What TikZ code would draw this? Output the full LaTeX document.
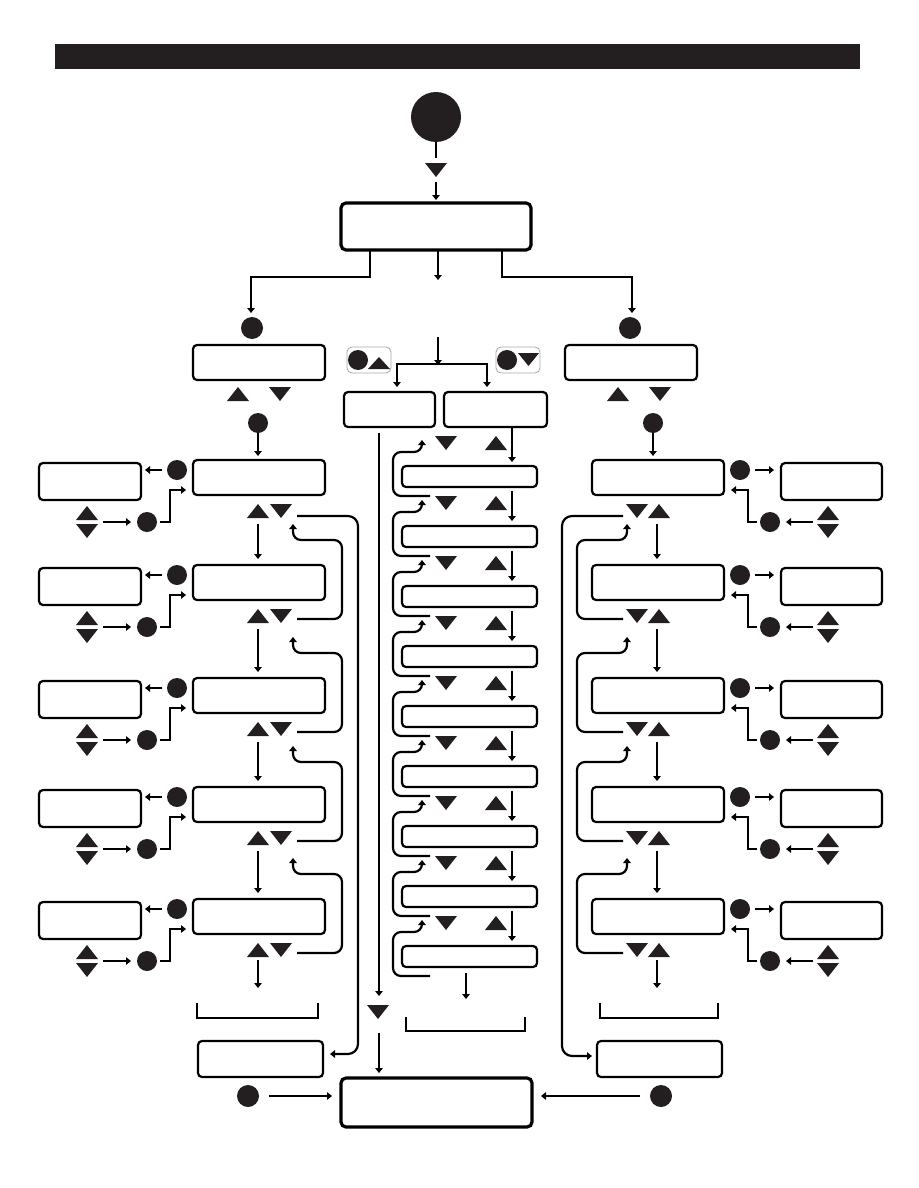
\documentclass[tikz,border=0pt]{standalone}
\usetikzlibrary{arrows.meta}
\definecolor{ink}{HTML}{231F20}
\newcommand\TUp[2]{\fill[ink] ({#1-11},{#2+7}) -- ({#1+11},{#2+7}) -- ({#1},{#2-7}) -- cycle;}
\newcommand\TDn[2]{\fill[ink] ({#1-11},{#2-7}) -- ({#1+11},{#2-7}) -- ({#1},{#2+7}) -- cycle;}
\begin{document}
\begin{tikzpicture}[x=1pt,y=-1pt,
  box/.style={draw=black, line width=2.2pt, rounded corners=4pt, inner sep=0pt, outer sep=0pt, fill=white},
  bigbox/.style={box, line width=3.2pt, rounded corners=5pt},
  btn/.style={circle, fill=ink, inner sep=0pt, outer sep=0pt},
  ln/.style={line width=2.2pt, draw=black},
  ar/.style={ln, -{Triangle[length=5pt,width=7.5pt]}},
  brk/.style={line width=1.4pt, draw=black},
  badge/.style={draw=gray!70, line width=0.8pt, rounded corners=5pt, inner sep=0pt, minimum width=44pt, minimum height=26pt}
]
\useasboundingbox (0,0) rectangle (918,1188);
% title bar
\node[fill=ink, inner sep=0pt, minimum width=805pt, minimum height=25pt] (bar) at (457.5,56.5) {};
% start
\node[btn, minimum size=50pt] (start) at (436,117) {};
\draw[ln] (start.south) -- (436,158);
\TDn{436}{170}
\node[bigbox, minimum width=190pt, minimum height=47pt] (b1) at (436,226.5) {};
\draw[ar] (436,182) -- ([yshift=3pt]b1.north);
% branches
\draw[ar] (370,250) |- (251,277) -- (251,313);
\draw[ar] (502,250) |- (632,277) -- (632,313);
\draw[ar] (438,250) -- (438,280);
% left top
\node[btn, minimum size=22pt] (cl0) at (252,328) {};
\node[box, minimum width=132pt, minimum height=35pt] (L0) at (259,362.5) {};
\TUp{238}{394}\TDn{280}{394}
\node[btn, minimum size=20pt] (cl1) at (258,423) {};
% right top
\node[btn, minimum size=22pt] (cr0) at (630,328) {};
\node[box, minimum width=132pt, minimum height=35pt] (R0) at (631,362.5) {};
\TUp{618}{394}\TDn{660}{394}
\node[btn, minimum size=20pt] (cr1) at (653,423) {};
% middle top
\node[badge] (bgL) at (369,360) {};
\node[btn, minimum size=20pt] (bgLc) at (358,360) {};
\fill[ink] (368,369) -- (390,369) -- (379,357) -- cycle;
\node[badge] (bgR) at (518,360) {};
\node[btn, minimum size=20pt] (bgRc) at (507,360) {};
\fill[ink] (518,353) -- (539,353) -- (528.5,366) -- cycle;
\draw[ar] (438,337) -- (438,365);
\draw[ar] (438,364) -| (397,387);
\draw[ar] (438,364) -| (487,387);
\node[box, minimum width=91pt, minimum height=35pt] (M1) at (389.5,409.5) {};
\node[box, minimum width=103pt, minimum height=35pt] (M2) at (495.5,409.5) {};
\draw[ar] (cl1.south) -- (258,456);
\draw[ar] (cr1.south) -- (653,456);
% left and right columns
\foreach \T [count=\i] in {460,565,678,787,899} {
  % left
  \node[box, minimum width=132pt, minimum height=35pt] (L\i) at (259,\T+17.5) {};
  \node[box, minimum width=102pt, minimum height=37pt] (SL\i) at (90,\T+21.5) {};
  \node[btn, minimum size=20pt] (LA\i) at (177,\T+10) {};
  \node[btn, minimum size=20pt] (LB\i) at (147,\T+62) {};
  \draw[ar] ([xshift=-5pt]LA\i.west) -- (145,\T+10);
  \TUp{87}{\T+53}\TDn{87}{\T+71}
  \draw[ar] (103,\T+62) -- ([xshift=-6pt]LB\i.west);
  \draw[ar] ([xshift=3pt]LB\i.east) -- (170,\T+62) -- (170,\T+30) -- (186,\T+30);
  \TUp{258}{\T+51}\TDn{281}{\T+51}
  % right
  \node[box, minimum width=132pt, minimum height=35pt] (R\i) at (658,\T+17.5) {};
  \node[box, minimum width=101pt, minimum height=37pt] (SR\i) at (831.5,\T+21.5) {};
  \node[btn, minimum size=20pt] (RA\i) at (740,\T+10) {};
  \node[btn, minimum size=20pt] (RB\i) at (770,\T+62) {};
  \draw[ar] ([xshift=5pt]RA\i.east) -- (774,\T+10);
  \TUp{828}{\T+53}\TDn{828}{\T+71}
  \draw[ar] (813,\T+62) -- ([xshift=6pt]RB\i.east);
  \draw[ar] ([xshift=-3pt]RB\i.west) -- (748,\T+62) -- (748,\T+30) -- (731,\T+30);
  \TDn{637}{\T+51}\TUp{659}{\T+51}
}
\foreach \P/\T in {460/565,565/678,678/787,787/899} {
  \draw[ar] (258,\P+64) -- (258,\T-6);
  \draw[ar] (657,\P+64) -- (657,\T-6);
  \draw[ar, rounded corners=8pt] (297,\T+54) -- (342,\T+54) -- (342,\T-25) -- (293,\T-25) -- (293,\T-41);
  \draw[ar, rounded corners=8pt] (623,\T+54) -- (577,\T+54) -- (577,\T-25) -- (627,\T-25) -- (627,\T-41);
}
% outer long loops
\draw[ar, rounded corners=10pt] (297,516) -- (358,516) -- (358,1054) -- (330,1054);
\draw[ar, rounded corners=10pt] (623,516) -- (562,516) -- (562,1056) -- (592,1056);
% bottom of side columns
\draw[ar] (258,960) -- (258,988);
\draw[ar] (657,960) -- (657,988);
\draw[brk] (197,1003) -- (197,1018) -- (318,1018) -- (318,1003);
\draw[brk] (600,1003) -- (600,1018) -- (718,1018) -- (718,1003);
\node[box, minimum width=125pt, minimum height=36pt] (LX) at (260.5,1059) {};
\node[box, minimum width=125pt, minimum height=36pt] (RX) at (659.5,1059) {};
% middle list
\draw[ar] (512,428) -- (512,462);
\foreach \k in {0,...,8} {
  \pgfmathsetmacro\C{466+60*\k}
  \node[box, minimum width=135pt, minimum height=21pt] (C\k) at (469.5,\C+10.5) {};
  \TDn{446}{\C-23}\TUp{496}{\C-23}
  \draw[ar, rounded corners=8pt] (430,\C+30) -- (393,\C+30) -- (393,\C-14) -- (422,\C-14) -- (422,\C-26);
}
\foreach \k in {1,...,8} {
  \pgfmathsetmacro\C{466+60*\k}
  \draw[ar] (512,\C-35) -- (512,\C-5);
}
\draw[ar] (466,973) -- (466,999);
\draw[brk] (406,1017) -- (406,1031) -- (525,1031) -- (525,1017);
% middle long line
\draw[ar] (379,433) -- (379,996);
\TDn{378}{1012}
\node[bigbox, minimum width=191pt, minimum height=49pt] (fin) at (436.5,1102.5) {};
\draw[ar] (379,1033) -- ([yshift=5pt]fin.north -| 379,0);
% bottom buttons
\node[btn, minimum size=22pt] (bl) at (248,1096) {};
\node[btn, minimum size=22pt] (br) at (661,1096) {};
\draw[ar] ([xshift=10pt]bl.east) -- ([xshift=-9pt]fin.west |- bl);
\draw[ar] ([xshift=-10pt]br.west) -- ([xshift=9pt]fin.east |- br);
\end{tikzpicture}
\end{document}
